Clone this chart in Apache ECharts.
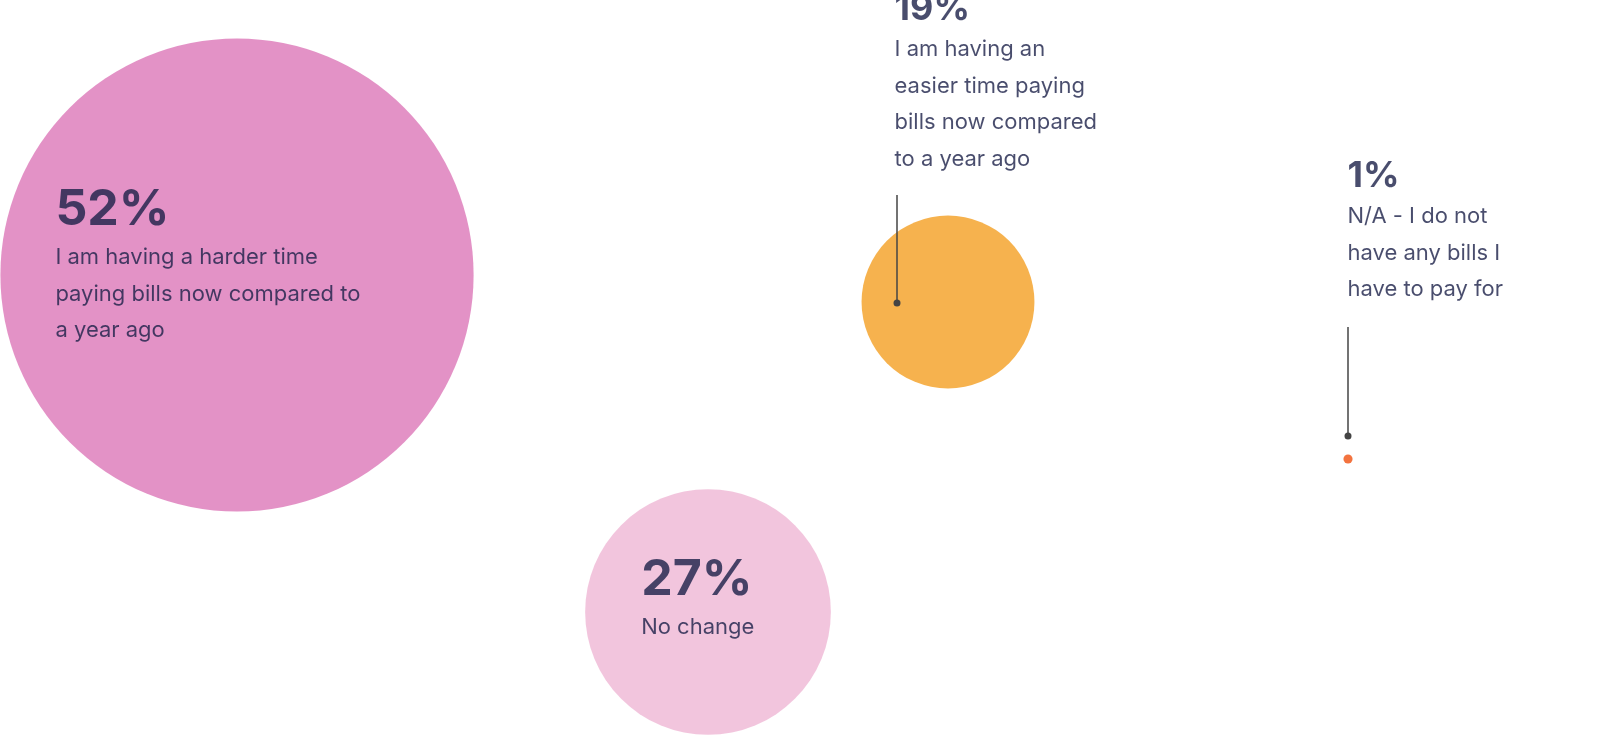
<!DOCTYPE html>
<html><head><meta charset="utf-8">
<script src="https://cdn.jsdelivr.net/npm/echarts@6/dist/echarts.min.js"></script>
<style>html,body{margin:0;padding:0;background:#fff}#c{width:1600px;height:746px}</style>
</head><body><div id="c"></div>
<script>
const percents = [52, 27, 19, 1];
const labels = [
  'I am having a harder time\npaying bills now compared to\na year ago',
  'No change',
  'I am having an\neasier time paying\nbills now compared\nto a year ago',
  'N/A - I do not\nhave any bills I\nhave to pay for'
];
const xPos = [237, 708, 948, 1348];
const yPos = [275, 612, 302, 459];
const colors = ['#dc77b8', '#efb6d4', '#f49f22', '#f0500f'];
const numSizes = [50, 50, 36, 36];
const labelPos = [[55, 143], [56, 62], [33, -228], [4, -300]];

const navy = '#1b2148';
const data = percents.map((v, i) => ({
  value: [xPos[i], yPos[i], v],
  symbolSize: v * 9.1,
  itemStyle: { color: colors[i] },
  label: {
    show: true,
    position: labelPos[i],
    align: 'left',
    verticalAlign: 'top',
    formatter: '{n' + i + '|' + v + '%}\n{t|' + labels[i] + '}',
    rich: {
      ['n' + i]: { fontSize: numSizes[i], fontWeight: 'bold', color: navy, lineHeight: numSizes[i] + 8, fontFamily: 'Inter' },
      t: { fontSize: 22, color: navy, lineHeight: 36.5, fontFamily: 'Inter' }
    }
  }
}));

const chart = echarts.init(document.getElementById('c'));
chart.setOption({
  animation: false,
  grid: { left: 0, right: 0, top: 0, bottom: 0 },
  xAxis: { type: 'value', min: 0, max: 1600, show: false },
  yAxis: { type: 'value', min: 0, max: 746, inverse: true, show: false },
  series: [{ type: 'scatter', data: data, z: 2 }]
});

// leader lines for the small bubbles
function leader(i, dx, y1off, y2off) {
  const p = chart.convertToPixel({ seriesIndex: 0 }, [xPos[i], yPos[i]]);
  return [
    { type: 'line', z: 10, shape: { x1: p[0] + dx, y1: p[1] + y1off, x2: p[0] + dx, y2: p[1] + y2off }, style: { stroke: '#444', lineWidth: 1.5 } },
    { type: 'circle', z: 10, shape: { cx: p[0] + dx, cy: p[1] + y2off, r: 3.5 }, style: { fill: '#444' } }
  ];
}
chart.setOption({ graphic: [...leader(2, -51, -107, 1), ...leader(3, 0, -132, -23)] });
</script></body></html>
